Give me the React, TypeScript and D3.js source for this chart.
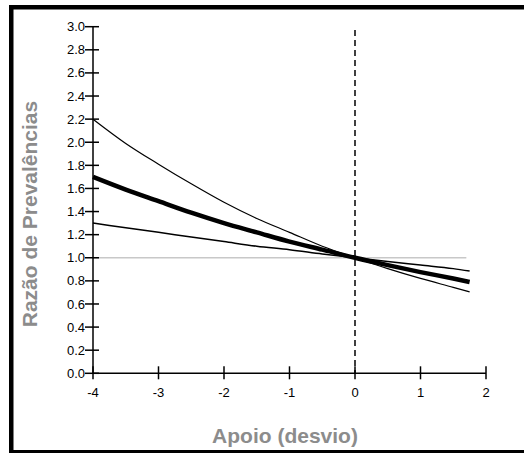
import React, { useRef, useEffect } from 'react';
import * as d3 from 'd3';

// x positions (Apoio, desvio) at which the curves were read
const apoio = [-4, -3.5, -3, -2.5, -2, -1.5, -1, -0.5, 0, 0.5, 1, 1.5, 1.75];
// central estimate (thick line)
const rp = [1.7, 1.59, 1.49, 1.39, 1.3, 1.22, 1.14, 1.07, 1.0, 0.936, 0.876, 0.82, 0.79];
// confidence band, steeper curve
const rpUpper = [2.2, 1.99, 1.81, 1.64, 1.48, 1.34, 1.22, 1.1, 1.0, 0.906, 0.821, 0.744, 0.705];
// confidence band, flatter curve
const rpLower = [1.3, 1.26, 1.22, 1.18, 1.14, 1.1, 1.07, 1.033, 1.0, 0.968, 0.937, 0.906, 0.885];

const xTicks = [-4, -3, -2, -1, 0, 1, 2];
const yTicks = [0, 0.2, 0.4, 0.6, 0.8, 1.0, 1.2, 1.4, 1.6, 1.8, 2.0, 2.2, 2.4, 2.6, 2.8, 3.0];

const W = 524, H = 453;

const App = () => {
  const svgRef = useRef(null);

  useEffect(() => {
    const svg = d3.select(svgRef.current);
    svg.selectAll('*').remove();

    const x = d3.scaleLinear().domain([-4, 2]).range([93, 486]);
    const y = d3.scaleLinear().domain([0, 3]).range([373.3, 26.7]);

    // frame (top, left and bottom bars)
    svg.append('rect').attr('x', 9).attr('y', 5).attr('width', W - 9).attr('height', 4.5).attr('fill', '#000');
    svg.append('rect').attr('x', 9).attr('y', 5).attr('width', 4.5).attr('height', H - 5).attr('fill', '#000');
    svg.append('rect').attr('x', 9).attr('y', 450).attr('width', W - 9).attr('height', 3).attr('fill', '#000');

    // reference line at RP = 1
    svg.append('line')
      .attr('x1', x(-4)).attr('x2', x(1.7))
      .attr('y1', y(1)).attr('y2', y(1))
      .attr('stroke', '#c8c8c8').attr('stroke-width', 1.5);

    // dashed line at x = 0
    svg.append('line')
      .attr('x1', x(0)).attr('x2', x(0))
      .attr('y1', 30).attr('y2', y(0))
      .attr('stroke', '#000').attr('stroke-width', 1.5)
      .attr('stroke-dasharray', '6,4');

    const line = d3.line()
      .x((d, i) => x(apoio[i]))
      .y(d => y(d))
      .curve(d3.curveMonotoneX);

    svg.append('path').datum(rpUpper)
      .attr('fill', 'none').attr('stroke', '#000').attr('stroke-width', 1.2)
      .attr('d', line);
    svg.append('path').datum(rpLower)
      .attr('fill', 'none').attr('stroke', '#000').attr('stroke-width', 1.5)
      .attr('d', line);
    svg.append('path').datum(rp)
      .attr('fill', 'none').attr('stroke', '#000').attr('stroke-width', 4.5)
      .attr('d', line);

    // axes
    const xAxis = svg.append('g').attr('transform', `translate(0,${y(0)})`);
    xAxis.append('line').attr('x1', x(-4)).attr('x2', x(2)).attr('stroke', '#000').attr('stroke-width', 1.5);
    xTicks.forEach(t => {
      xAxis.append('line').attr('x1', x(t)).attr('x2', x(t)).attr('y1', -7).attr('y2', 6)
        .attr('stroke', '#000').attr('stroke-width', 1.5);
      xAxis.append('text').attr('x', x(t)).attr('y', 24)
        .attr('text-anchor', 'middle')
        .attr('font-family', 'Arial, "Liberation Sans", sans-serif').attr('font-size', 13)
        .text(t);
    });

    const yAxis = svg.append('g').attr('transform', `translate(${x(-4)},0)`);
    yAxis.append('line').attr('y1', y(0)).attr('y2', y(3)).attr('stroke', '#000').attr('stroke-width', 1.5);
    yTicks.forEach(t => {
      yAxis.append('line').attr('x1', -8).attr('x2', 6).attr('y1', y(t)).attr('y2', y(t))
        .attr('stroke', '#000').attr('stroke-width', 1.5);
      yAxis.append('text').attr('x', -8).attr('y', y(t)).attr('dy', '0.35em')
        .attr('text-anchor', 'end')
        .attr('font-family', 'Arial, "Liberation Sans", sans-serif').attr('font-size', 13)
        .text(t.toFixed(1));
    });

    // axis titles
    svg.append('text')
      .attr('transform', 'translate(37,214) rotate(-90)')
      .attr('text-anchor', 'middle')
      .attr('font-family', 'Arial, "Liberation Sans", sans-serif').attr('font-size', 21)
      .attr('font-weight', 'bold').attr('fill', '#8c8c8c')
      .text('Razão de Prevalências');
    svg.append('text')
      .attr('x', 285).attr('y', 443)
      .attr('text-anchor', 'middle')
      .attr('font-family', 'Arial, "Liberation Sans", sans-serif').attr('font-size', 21)
      .attr('font-weight', 'bold').attr('fill', '#8c8c8c')
      .text('Apoio (desvio)');
  }, []);

  return (
    <svg ref={svgRef} width={W} height={H}
      style={{ position: 'absolute', left: 0, top: 0, background: '#fff' }} />
  );
};

export default App;
